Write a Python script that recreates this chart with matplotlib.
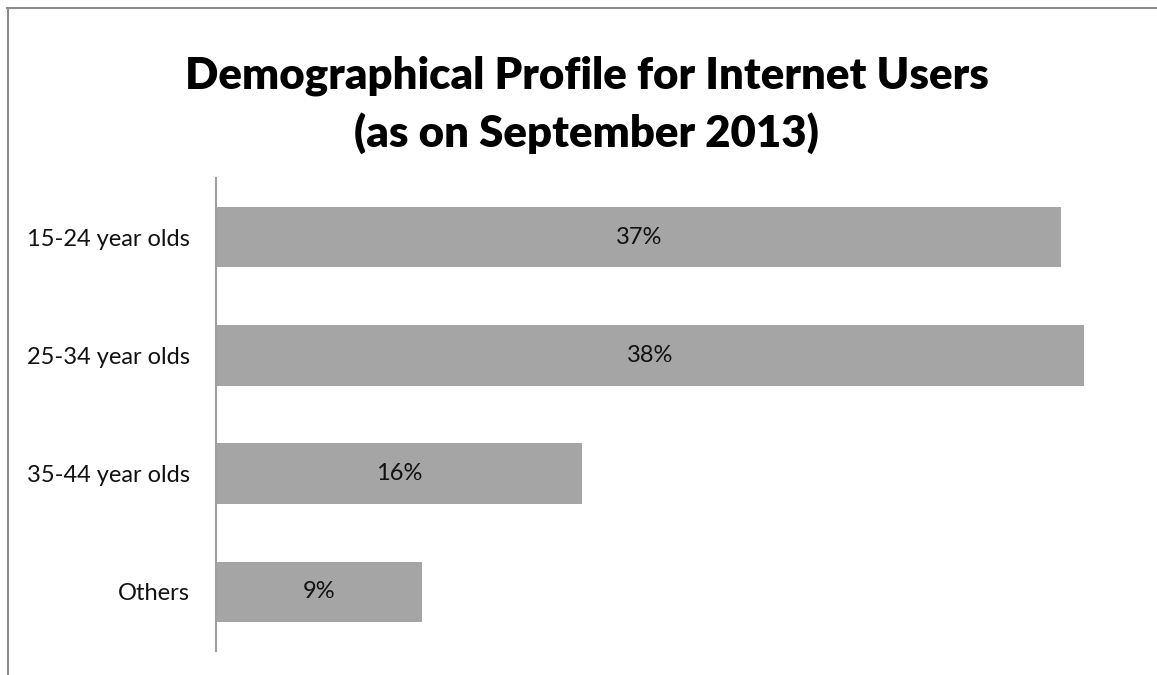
import matplotlib
matplotlib.use("Agg")
import matplotlib.pyplot as plt
from matplotlib.lines import Line2D

categories = ["15-24 year olds", "25-34 year olds", "35-44 year olds", "Others"]
shares = [0.37, 0.38, 0.16, 0.09]
value_labels = ["37%", "38%", "16%", "9%"]

plt.rcParams["font.family"] = ["Lato", "DejaVu Sans"]

W, H = 1157, 675
fig = plt.figure(figsize=(W / 100, H / 100), dpi=100)
fig.patch.set_facecolor("white")

# Chart frame (left and top edges)
fig.add_artist(Line2D([7.5 / W, 7.5 / W], [0, 1 - 8 / H], transform=fig.transFigure,
                      color="#8c8c8c", lw=1.5))
fig.add_artist(Line2D([7 / W, 1], [1 - 8 / H, 1 - 8 / H], transform=fig.transFigure,
                      color="#8c8c8c", lw=1.5))

ax = fig.add_axes([216 / W, 24 / H, (1130 - 216) / W, (651 - 178) / H])
y = list(range(len(categories)))
ax.barh(y, shares, height=0.51, color="#a5a5a5", edgecolor="none")
ax.set_xlim(0, 0.40)
ax.set_ylim(len(categories) - 0.5, -0.5)

ax.set_yticks(y)
ax.set_yticklabels(categories, fontsize=17, color="#111111")
ax.tick_params(axis="y", length=0, pad=19)
ax.set_xticks([])
for s in ["top", "right", "bottom"]:
    ax.spines[s].set_visible(False)
ax.spines["left"].set_color("#a0a0a0")
ax.spines["left"].set_linewidth(1.5)

for yi, v, lab in zip(y, shares, value_labels):
    ax.text(v / 2, yi, lab, ha="center", va="center", fontsize=17, color="#111111")

tx = 586.5 / W
fig.text(tx, 1 - 76 / H, "Demographical Profile for Internet Users",
         ha="center", va="center", fontsize=31.5, fontweight="heavy", color="black")
fig.text(tx, 1 - 133 / H, "(as on September 2013)",
         ha="center", va="center", fontsize=31.5, fontweight="heavy", color="black")

fig.savefig("out.png", dpi=100, facecolor="white")
